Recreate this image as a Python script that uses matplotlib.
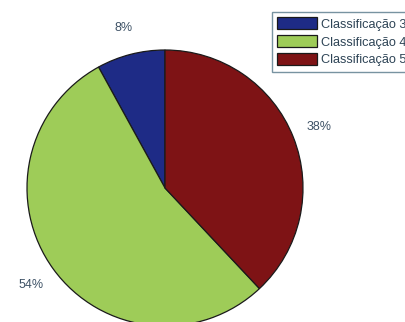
import matplotlib
matplotlib.use("Agg")
import matplotlib.pyplot as plt

plt.rcParams["font.family"] = ["Liberation Sans", "DejaVu Sans"]

classes = ["Classificação 3", "Classificação 4", "Classificação 5"]
shares = [8, 54, 38]
pct_labels = ["8%", "54%", "38%"]
colors = ["#1e2b86", "#9ecc58", "#7e1315"]

W, H = 406, 322
fig = plt.figure(figsize=(W / 100, H / 100), dpi=100)
ax = fig.add_axes([0, 0, 1, 1])

wedges, texts = ax.pie(
    shares,
    labels=pct_labels,
    colors=colors,
    startangle=90,
    counterclock=True,
    labeldistance=1.2,
    wedgeprops=dict(edgecolor="#1a1a1a", linewidth=0.9),
    textprops=dict(fontsize=9, color="#3e5266"),
)
# labels sit centred on the 1.2 radius ring
for t in texts:
    t.set_ha("center")
    t.set_va("center")

# pie centre at (165, 188) px from top-left, radius 138 px
cx, cy, r = 165.0, 188.0, 138.0
ax.set_xlim(-cx / r, (W - cx) / r)
ax.set_ylim(-(H - cy) / r, cy / r)
ax.set_aspect("auto")
ax.axis("off")

leg = ax.legend(
    wedges,
    classes,
    loc="upper left",
    bbox_to_anchor=(272 / W, 1 - 12 / H),
    bbox_transform=fig.transFigure,
    fontsize=9.2,
    frameon=True,
    fancybox=False,
    borderaxespad=0,
    borderpad=0.4,
    handlelength=3.1,
    handleheight=1.1,
    handletextpad=0.3,
    labelspacing=0.35,
)
leg.get_frame().set_edgecolor("#56788a")
leg.get_frame().set_linewidth(1.0)
for t in leg.get_texts():
    t.set_color("#2e4456")

fig.savefig("out.png", dpi=100)
